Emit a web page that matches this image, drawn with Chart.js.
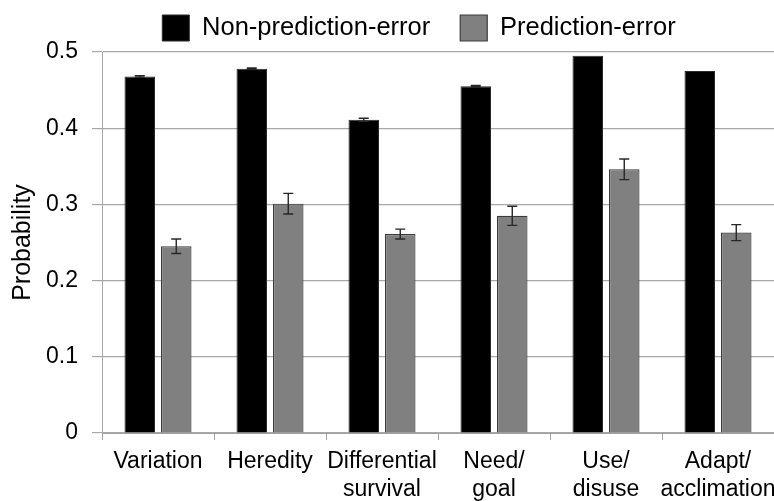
<!DOCTYPE html>
<html>
<head>
<meta charset="utf-8">
<script src="https://cdn.jsdelivr.net/npm/chart.js@4/dist/chart.umd.min.js"></script>
<style>
  html, body { margin: 0; padding: 0; background: #fff; }
  #wrap { width: 774px; height: 501px; }
</style>
</head>
<body>
<div id="wrap"><canvas id="c" width="774" height="501"></canvas></div>
<script>
const categories = [["Variation"], ["Heredity"], ["Differential", "survival"], ["Need/", "goal"], ["Use/", "disuse"], ["Adapt/", "acclimation"]];
const seriesNames = ["Non-prediction-error", "Prediction-error"];
const nonPredValues = [0.468, 0.478, 0.411, 0.455, 0.495, 0.475];
const nonPredErrors = [0.001, 0.001, 0.002, 0.001, 0, 0];
const predValues = [0.245, 0.301, 0.261, 0.285, 0.346, 0.263];
const predErrors = [0.0095, 0.0135, 0.0065, 0.0125, 0.0135, 0.0105];
const yTicks = [0, 0.1, 0.2, 0.3, 0.4, 0.5];

const FONT = "'Liberation Sans', Arial, sans-serif";

const errorBarPlugin = {
  id: 'errorBars',
  afterDatasetsDraw(chart) {
    const ctx = chart.ctx;
    const yScale = chart.scales.y;
    const errs = [nonPredErrors, predErrors];
    const vals = [nonPredValues, predValues];
    ctx.save();
    ctx.strokeStyle = '#262626';
    ctx.lineWidth = 1.4;
    chart.data.datasets.forEach((ds, di) => {
      const meta = chart.getDatasetMeta(di);
      meta.data.forEach((bar, i) => {
        const e = errs[di][i];
        if (!e) return;
        const x = bar.x;
        const yTop = yScale.getPixelForValue(vals[di][i] + e);
        const yBot = yScale.getPixelForValue(vals[di][i] - e);
        const cap = 5;
        ctx.beginPath();
        ctx.moveTo(x, yTop); ctx.lineTo(x, yBot);
        ctx.moveTo(x - cap, yTop); ctx.lineTo(x + cap, yTop);
        ctx.moveTo(x - cap, yBot); ctx.lineTo(x + cap, yBot);
        ctx.stroke();
      });
    });
    ctx.restore();
  }
};

const legendPlugin = {
  id: 'legendTweak',
  beforeInit(chart) {
    const lg = chart.legend;
    const origFit = lg.fit;
    lg.fit = function () {
      origFit.call(this);
      this.height = 52;
    };
  },
  afterLayout(chart) {
    chart.legend.left += 32;
    chart.legend.right += 32;
    chart.legend.top -= 15;
  }
};

new Chart(document.getElementById('c'), {
  type: 'bar',
  data: {
    labels: categories,
    datasets: [
      {
        label: seriesNames[0],
        data: nonPredValues,
        backgroundColor: '#000000',
        borderColor: '#2a2a2a',
        borderWidth: 1,
        categoryPercentage: 0.652,
        barPercentage: 0.836
      },
      {
        label: seriesNames[1],
        data: predValues,
        backgroundColor: '#808080',
        borderColor: '#3a3a3a',
        borderWidth: 1.2,
        categoryPercentage: 0.652,
        barPercentage: 0.836
      }
    ]
  },
  options: {
    responsive: false,
    animation: false,
    devicePixelRatio: 1,
    layout: { padding: { left: 0, right: 0, top: 0, bottom: 0 } },
    plugins: {
      legend: {
        position: 'top',
        align: 'center',
        labels: {
          boxWidth: 27,
          boxHeight: 26,
          padding: 30,
          color: '#000',
          font: { family: FONT, size: 25.5 }
        }
      },
      tooltip: { enabled: false }
    },
    scales: {
      x: {
        grid: {
          display: true,
          drawOnChartArea: false,
          drawTicks: true,
          tickLength: 7,
          color: '#a0a0a0',
          offset: true
        },
        border: { display: true, color: '#a0a0a0', width: 1 },
        ticks: {
          color: '#000',
          font: { family: FONT, size: 23, lineHeight: 1.22 },
          padding: 8,
          maxRotation: 0,
          minRotation: 0,
          autoSkip: false
        },
        afterFit(scale) {
          scale.height = 68;
          scale.paddingLeft = 0;
          scale.paddingRight = 0;
        }
      },
      y: {
        min: 0,
        max: 0.5,
        afterBuildTicks(scale) {
          scale.ticks = yTicks.map(v => ({ value: v }));
        },
        grid: {
          color: '#a8a8a8',
          lineWidth: 1.2,
          tickLength: 10,
          drawTicks: true
        },
        border: { display: true, color: '#a8a8a8', width: 1 },
        ticks: {
          color: '#000',
          font: { family: FONT, size: 23 },
          padding: 14,
          callback: (v) => String(v)
        },
        title: {
          display: true,
          text: 'Probability',
          color: '#000',
          font: { family: FONT, size: 25 },
          padding: { top: 8, bottom: 0 }
        },
        afterFit(scale) {
          scale.width = 102;
          scale.paddingTop = 0;
          scale.paddingBottom = 0;
        }
      }
    }
  },
  plugins: [legendPlugin, errorBarPlugin]
});
</script>
</body>
</html>
